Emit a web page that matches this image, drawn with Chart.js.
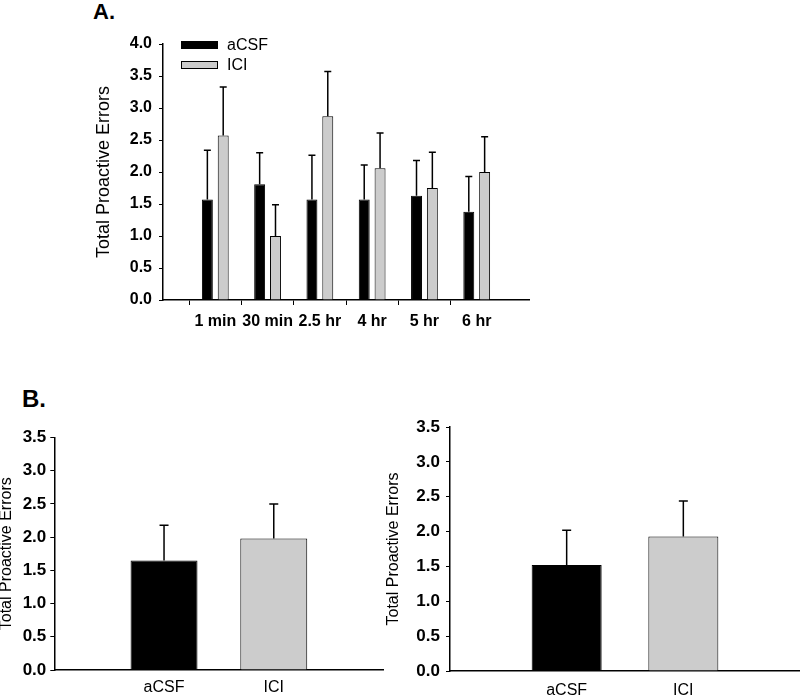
<!DOCTYPE html>
<html lang="en">
<head>
    <meta charset="UTF-8">
    <title>Total Proactive Errors</title>
    <script src="https://cdn.jsdelivr.net/npm/chart.js"></script>
    <style>
        body { margin: 0; background: #fff; width: 800px; height: 696px; overflow: hidden; position: relative; font-family: 'Liberation Sans', Arial, sans-serif; }
        canvas { position: absolute; }
        .panel { position: absolute; font-weight: bold; color: #000; }
    </style>
</head>
<body>

    <div class="panel" style="left:93px; top:1px; font-size:22px; line-height:22px;">A.</div>
    <div class="panel" style="left:22px; top:387px; font-size:24px; line-height:24px;">B.</div>

    <canvas id="graficoA" style="left:0; top:0;"></canvas>
    <canvas id="graficoB1" style="left:0; top:380px;"></canvas>
    <canvas id="graficoB2" style="left:385px; top:380px;"></canvas>

    <script>
        // Painel A - por tempo
        const temposA = ['1 min', '30 min', '2.5 hr', '4 hr', '5 hr', '6 hr'];
        const acsfA = [1.57, 1.81, 1.57, 1.57, 1.63, 1.38];
        const acsfErroA = [0.77, 0.49, 0.69, 0.54, 0.55, 0.55];
        const iciA = [2.57, 1.00, 2.87, 2.06, 1.75, 2.00];
        const iciErroA = [0.76, 0.49, 0.70, 0.55, 0.56, 0.55];
        const ticksA = [0, 0.5, 1, 1.5, 2, 2.5, 3, 3.5, 4];

        // Painel B
        const gruposB = ['aCSF', 'ICI'];
        const mediasB1 = [1.65, 1.98];
        const errosB1 = [0.53, 0.52];
        const mediasB2 = [1.52, 1.93];
        const errosB2 = [0.50, 0.51];
        const ticksB = [0, 0.5, 1, 1.5, 2, 2.5, 3, 3.5];

        const PRETO = '#000000';
        const CINZA = '#cccccc';
        const FONTE = "'Liberation Sans', Arial, sans-serif";
        const tituloY = 'Total Proactive Errors';

        Chart.defaults.font.family = FONTE;
        Chart.defaults.color = '#000';

        // desenha as barras de erro (só para cima)
        const barrasErro = {
            id: 'barrasErro',
            afterDatasetsDraw(chart, args, opts) {
                const ctx = chart.ctx;
                const y = chart.scales.y;
                chart.data.datasets.forEach((ds, di) => {
                    const meta = chart.getDatasetMeta(di);
                    meta.data.forEach((bar, i) => {
                        const topo = y.getPixelForValue(ds.data[i].y + ds.erros[i]);
                        ctx.save();
                        ctx.strokeStyle = PRETO;
                        ctx.lineWidth = 1.5;
                        ctx.beginPath();
                        ctx.moveTo(bar.x, bar.y);
                        ctx.lineTo(bar.x, topo);
                        ctx.moveTo(bar.x - opts.cap, topo);
                        ctx.lineTo(bar.x + opts.cap, topo);
                        ctx.stroke();
                        ctx.restore();
                    });
                });
            }
        };

        // legenda dentro da área do gráfico A
        const legendaA = {
            id: 'legendaA',
            afterDraw(chart) {
                const ctx = chart.ctx;
                const a = chart.chartArea;
                ctx.save();
                ctx.font = '16px ' + FONTE;
                ctx.textBaseline = 'middle';
                chart.data.datasets.forEach((ds, i) => {
                    const x = a.left + 18;
                    const y = a.top - 3 + i * 20;
                    ctx.fillStyle = ds.backgroundColor;
                    ctx.fillRect(x, y, 37, 8);
                    ctx.strokeStyle = PRETO;
                    ctx.lineWidth = 1;
                    ctx.strokeRect(x + 0.5, y + 0.5, 36, 7);
                    ctx.fillStyle = PRETO;
                    ctx.fillText(ds.label, x + 46, y + 4.5);
                });
                ctx.restore();
            }
        };

        function eixoY(max, ticks, largura, tamanhoFonte, padTitulo, padTick, tamTitulo) {
            return {
                min: 0, max: max,
                afterFit: (s) => { s.width = largura; },
                afterBuildTicks: (s) => { s.ticks = ticks.map(v => ({ value: v })); },
                border: { display: true, color: PRETO, width: 1.5 },
                grid: { drawOnChartArea: false, drawTicks: true, tickLength: 4, color: PRETO, lineWidth: 1 },
                ticks: {
                    font: { size: tamanhoFonte, weight: 'bold' },
                    padding: padTick,
                    callback: (v) => Number(v).toFixed(1)
                },
                title: {
                    display: true, text: tituloY,
                    font: { size: tamTitulo },
                    padding: { top: padTitulo, bottom: 0 }
                }
            };
        }

        function pontos(cats, vals) {
            return cats.map((c, i) => ({ x: c, y: vals[i] }));
        }

        function ajustaX(altura) {
            return (s) => {
                s.height = altura;
                s.paddingLeft = 0;
                s.paddingRight = 0;
            };
        }

        // Gráfico A
        const canvasA = document.getElementById('graficoA');
        canvasA.width = 560; canvasA.height = 340;
        const rotulosA = [''].concat(temposA, ['']);
        new Chart(canvasA, {
            type: 'bar',
            data: {
                labels: rotulosA,
                datasets: [
                    { label: 'aCSF', data: pontos(temposA, acsfA), erros: acsfErroA, backgroundColor: PRETO, borderColor: PRETO, borderWidth: 1 },
                    { label: 'ICI', data: pontos(temposA, iciA), erros: iciErroA, backgroundColor: CINZA, borderColor: PRETO, borderWidth: 1 }
                ]
            },
            options: {
                responsive: false, animation: false,
                categoryPercentage: 0.606, barPercentage: 0.69,
                layout: { padding: { left: 0, top: 44, right: 31, bottom: 0 } },
                plugins: { legend: { display: false }, tooltip: { enabled: false }, barrasErro: { cap: 3.5 } },
                scales: {
                    x: {
                        offset: false,
                        afterFit: ajustaX(40),
                        border: { display: true, color: PRETO, width: 1.5 },
                        grid: {
                            drawOnChartArea: false, drawTicks: true, tickLength: 5, lineWidth: 1,
                            color: (c) => (c.index === 0 || c.index === rotulosA.length - 1) ? 'rgba(0,0,0,0)' : PRETO
                        },
                        ticks: { font: { size: 16, weight: 'bold' }, padding: 7, autoSkip: false, maxRotation: 0 }
                    },
                    y: eixoY(4, ticksA, 163, 16, 93, 7, 18)
                }
            },
            plugins: [barrasErro, legendaA]
        });

        function graficoB(id, largura, altura, medias, erros, opt) {
            const cv = document.getElementById(id);
            cv.width = largura; cv.height = altura;
            const rotulos = [''].concat(gruposB, ['']);
            return new Chart(cv, {
                type: 'bar',
                data: {
                    labels: rotulos,
                    datasets: [{
                        label: 'Total Proactive Errors',
                        data: pontos(gruposB, medias),
                        erros: erros,
                        backgroundColor: [PRETO, CINZA],
                        borderColor: PRETO, borderWidth: 1
                    }]
                },
                options: {
                    responsive: false, animation: false,
                    categoryPercentage: 1, barPercentage: opt.bar,
                    layout: { padding: { left: 0, top: opt.topo, right: opt.direita, bottom: 0 } },
                    plugins: { legend: { display: false }, tooltip: { enabled: false }, barrasErro: { cap: 4.5 } },
                    scales: {
                        x: {
                            offset: false,
                            afterFit: ajustaX(opt.alturaX),
                            border: { display: true, color: PRETO, width: 1.5 },
                            grid: { drawOnChartArea: false, drawTicks: false },
                            ticks: { font: { size: 16 }, padding: opt.padX, autoSkip: false, maxRotation: 0 }
                        },
                        y: eixoY(3.5, ticksB, opt.larguraY, 17, opt.padTitulo, opt.padTick, 16)
                    }
                },
                plugins: [barrasErro]
            });
        }

        graficoB('graficoB1', 385, 316, mediasB1, errosB1,
            { bar: 0.61, topo: 57.5, direita: 1.5, alturaX: 26, padX: 8.4, larguraY: 54.3, padTitulo: -2.6, padTick: 4 });
        graficoB('graficoB2', 415, 316, mediasB2, errosB2,
            { bar: 0.6, topo: 47, direita: 0, alturaX: 25, padX: 9.7, larguraY: 65, padTitulo: -0.6, padTick: 6 });
    </script>

</body>
</html>
